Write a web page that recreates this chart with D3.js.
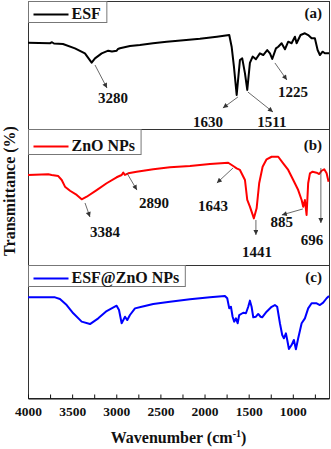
<!DOCTYPE html>
<html>
<head>
<meta charset="utf-8">
<script src="https://cdn.jsdelivr.net/npm/d3@7"></script>
<style>
  body { margin: 0; background: #fff; }
  svg { display: block; font-family: "Liberation Serif", "Times New Roman", serif; font-weight: bold; }
</style>
</head>
<body>
<div id="chart"></div>
<script>
// ---- data (wavenumber cm-1, transmittance a.u. 0-100 within each panel) ----
const esfSpectrum = [
  [4000,67.4],[3751,67.0],[3728,67.8],[3706,66.8],[3604,66.4],[3468,63.0],[3355,59.1],
  [3279,51.8],[3241,55.2],[3165,59.1],[3091,61.2],[3049,60.5],[2995,61.2],[2981,62.5],
  [2958,63.1],[2845,64.8],[2732,65.6],[2584,67.0],[2429,68.2],[2301,69.0],[2052,70.5],
  [1860,72.1],[1720,73.4],[1693,64.3],[1667,48.8],[1636,26.6],[1599,53.9],[1573,55.2],
  [1542,43.5],[1516,30.5],[1486,51.6],[1455,56.6],[1418,54.5],[1373,59.1],[1335,57.8],
  [1290,61.7],[1259,59.1],[1233,54.7],[1191,63.0],[1165,64.3],[1127,67.0],[1089,62.3],
  [1052,68.2],[1014,67.0],[976,72.1],[957,67.0],[912,73.4],[863,74.8],[826,73.4],
  [787,70.9],[750,70.9],[719,61.7],[693,57.8],[663,60.4],[637,59.2],[590,59.2]
];

const znoSpectrum = [
  [4000,66.2],[3770,66.7],[3732,66.2],[3657,65.4],[3618,62.5],[3581,57.6],[3524,54.6],
  [3448,51.5],[3392,48.3],[3335,50.2],[3222,55.1],[3109,60.1],[2996,64.5],[2939,66.2],
  [2921,67.9],[2902,66.2],[2864,67.4],[2769,68.6],[2581,70.4],[2392,71.8],[2165,72.8],
  [1939,74.3],[1732,75.2],[1675,72.8],[1636,71.1],[1599,69.9],[1542,62.5],[1516,47.8],
  [1486,42.9],[1441,34.3],[1410,41.7],[1381,60.1],[1342,72.3],[1297,77.7],[1240,79.6],
  [1165,79.6],[1109,74.8],[1052,69.9],[995,62.5],[939,55.1],[900,47.8],[882,42.9],
  [863,47.8],[844,36.8],[826,60.1],[806,67.4],[776,68.6],[730,67.9],[701,66.9],
  [674,69.3],[644,70.4],[617,67.4],[595,61.2]
];

const compositeSpectrum = [
  [4000,75.7],[3694,75.7],[3638,74.4],[3562,69.9],[3487,63.7],[3392,57.4],[3298,55.6],
  [3204,59.9],[3109,65.4],[2996,69.4],[2969,66.2],[2939,56.2],[2901,61.1],[2875,58.6],
  [2845,62.4],[2788,67.4],[2712,68.6],[2581,70.7],[2392,72.4],[2165,74.2],[1939,75.7],
  [1769,76.7],[1743,75.0],[1720,67.4],[1701,68.6],[1682,61.1],[1664,57.4],[1644,59.9],
  [1625,56.2],[1607,62.4],[1562,64.1],[1531,63.7],[1505,68.6],[1486,73.2],[1467,68.6],
  [1448,60.7],[1418,61.1],[1392,63.2],[1365,61.1],[1347,60.7],[1297,64.9],[1240,68.6],
  [1203,69.9],[1177,68.6],[1146,56.2],[1120,47.4],[1101,44.9],[1078,48.6],[1063,43.6],
  [1044,36.8],[1014,39.8],[988,43.6],[965,36.6],[939,44.9],[900,56.2],[863,59.9],
  [826,67.4],[787,71.2],[730,71.2],[693,69.9],[656,71.7],[617,75.0],[590,76.7]
];

const seriesNames = ["ESF", "ZnO NPs", "ESF@ZnO NPs"];
const panelTags = ["(a)", "(b)", "(c)"];
const esfPeaks = ["3280", "1630", "1511", "1225"];
const znoPeaks = ["3384", "2890", "1643", "1441", "885", "696"];
const compositePeaks = [];

const wavenumberTicks = [4000, 3750, 3500, 3250, 3000, 2750, 2500, 2250, 2000, 1750, 1500, 1250, 1000, 750];
const labelledTicks = [4000, 3500, 3000, 2500, 2000, 1500, 1000];

// ---- layout ----
const W = 331, H = 449;
const PLOT = { left: 28, right: 329 };
const panelBox = [
  { top: 1, bottom: 129, header: 0 },
  { top: 129, bottom: 265, header: 4 },
  { top: 265, bottom: 398, header: 0 }
];
const colors = ["#000000", "#ff0000", "#0000ff"];

// callout geometry in data space: arrow tail, arrow head, label anchor
const callouts = {
  "3280": { from: [3241, 50], to: [3105, 32], at: [3037, 20.3] },
  "1630": { from: [1622, 25], to: [1792, 16.4], at: [1962, 1.2] },
  "1511": { from: [1509, 28.9], to: [1225, 13.3], at: [1237, 1.2] },
  "1225": { from: [1203, 51.6], to: [1067, 38.3], at: [999, 25] },
  "3384": { from: [3354, 45.6], to: [3298, 35.3], at: [3128, 20.6] },
  "2890": { from: [2879, 67.6], to: [2766, 55.1], at: [2573, 41.9] },
  "1643": { from: [1678, 71.3], to: [1860, 60.3], at: [1905, 39.7] },
  "1441": { from: [1418, 33.1], to: [1418, 22.1], at: [1407, 5.9] },
  "885":  { from: [886, 41.2], to: [1124, 36.8], at: [1124, 27.9] },
  "696":  { from: [682, 71.3], to: [682, 30.9], at: [784, 14.7] }
};

const panels = [
  { name: seriesNames[0], tag: panelTags[0], data: esfSpectrum, peaks: esfPeaks },
  { name: seriesNames[1], tag: panelTags[1], data: znoSpectrum, peaks: znoPeaks },
  { name: seriesNames[2], tag: panelTags[2], data: compositeSpectrum, peaks: compositePeaks }
];

const svg = d3.select("#chart").append("svg").attr("width", W).attr("height", H);
svg.append("rect").attr("width", W).attr("height", H).attr("fill", "#fff");

svg.append("defs").append("marker")
  .attr("id", "arrow")
  .attr("viewBox", "0 0 10 10")
  .attr("refX", 10).attr("refY", 5)
  .attr("markerUnits", "userSpaceOnUse")
  .attr("markerWidth", 6).attr("markerHeight", 5)
  .attr("orient", "auto")
  .append("path").attr("d", "M0,0L10,5L0,10z").attr("fill", "#333");

const x = d3.scaleLinear().domain([4000, 590]).range([PLOT.left, PLOT.right]);

panels.forEach((p, i) => {
  const box = panelBox[i];
  const y = d3.scaleLinear().domain([0, 100]).range([box.bottom, box.top]);
  const g = svg.append("g").attr("class", "panel");

  // frame
  g.append("rect")
    .attr("x", PLOT.left + 0.5).attr("y", box.top + 0.5)
    .attr("width", PLOT.right - PLOT.left).attr("height", box.bottom - box.top)
    .attr("fill", "none").attr("stroke", "#333").attr("stroke-width", 1);

  // spectrum
  g.append("path")
    .datum(p.data)
    .attr("fill", "none")
    .attr("stroke", colors[i])
    .attr("stroke-width", 2)
    .attr("stroke-linejoin", "round")
    .attr("d", d3.line().x(d => x(d[0])).y(d => y(d[1])));

  // callouts
  p.peaks.forEach(label => {
    const c = callouts[label];
    g.append("line")
      .attr("x1", x(c.from[0])).attr("y1", y(c.from[1]))
      .attr("x2", x(c.to[0])).attr("y2", y(c.to[1]))
      .attr("stroke", "#444").attr("stroke-width", 0.8)
      .attr("marker-end", "url(#arrow)");
    g.append("text")
      .attr("x", x(c.at[0])).attr("y", y(c.at[1]))
      .attr("text-anchor", "middle")
      .attr("font-size", 15)
      .attr("fill", "#111")
      .text(label);
  });

  // panel tag
  g.append("text")
    .attr("x", PLOT.right - 7).attr("y", box.top + 17 + box.header)
    .attr("text-anchor", "end")
    .attr("font-size", 15)
    .attr("fill", "#111")
    .text(p.tag);

  // legend
  const lg = g.append("g").attr("transform", `translate(${PLOT.left + 0.5},${box.top + 0.5})`);
  const lbox = lg.append("rect").attr("height", 21 + box.header).attr("fill", "#fff").attr("stroke", "#777");
  lg.append("line").attr("x1", 5).attr("x2", 40)
    .attr("y1", 13 + box.header).attr("y2", 13 + box.header)
    .attr("stroke", colors[i]).attr("stroke-width", 2);
  const lt = lg.append("text").attr("x", 43).attr("y", 17.5 + box.header)
    .attr("font-size", 16).attr("fill", "#111").text(p.name);
  lbox.attr("width", 43 + lt.node().getComputedTextLength() + 6);
});

// x axis
const gx = svg.append("g").attr("class", "x-axis")
  .attr("transform", `translate(0,${panelBox[2].bottom + 0.5})`)
  .call(d3.axisBottom(x)
    .tickValues(wavenumberTicks)
    .tickSizeInner(-4).tickSizeOuter(0).tickPadding(8)
    .tickFormat(d => labelledTicks.includes(d) ? d : ""));
gx.select(".domain").attr("stroke", "#111");
gx.selectAll(".tick line").attr("stroke", "#111");
gx.selectAll(".tick text")
  .attr("font-family", "Liberation Serif, serif")
  .attr("font-weight", "bold")
  .attr("font-size", 13.5)
  .attr("fill", "#111");

// axis titles
const xt = svg.append("text")
  .attr("x", (PLOT.left + PLOT.right) / 2).attr("y", 443)
  .attr("text-anchor", "middle").attr("font-size", 16).attr("fill", "#111");
xt.append("tspan").text("Wavenumber (cm");
xt.append("tspan").attr("dy", -6).attr("font-size", 10).text("-1");
xt.append("tspan").attr("dy", 6).text(")");

svg.append("text")
  .attr("transform", "translate(15,191) rotate(-90)")
  .attr("text-anchor", "middle").attr("font-size", 16).attr("fill", "#111")
  .text("Transmittance (%)");
</script>
</body>
</html>
